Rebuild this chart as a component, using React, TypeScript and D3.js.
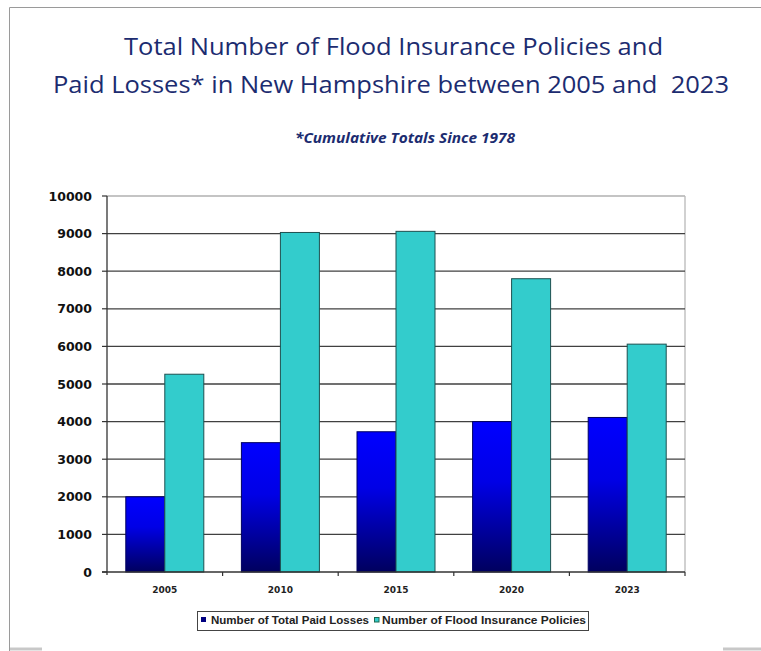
import React from "react";
import * as d3 from "d3";

const categories = ["2005", "2010", "2015", "2020", "2023"];
const seriesNames = ["Number of Total Paid Losses", "Number of Flood Insurance Policies"];
const paidLosses = [2000, 3440, 3730, 4000, 4110];
const policies = [5260, 9030, 9060, 7800, 6060];
const yTicks = [0, 1000, 2000, 3000, 4000, 5000, 6000, 7000, 8000, 9000, 10000];
const titleLines = [
  "Total Number of Flood Insurance Policies and",
  "Paid Losses* in New Hampshire between 2005 and  2023",
];
const subtitle = "*Cumulative Totals Since 1978";

export default function App() {
  const W = 761, H = 651;
  const left = 107, right = 685, top = 196, bottom = 572;
  const x = d3.scaleBand<string>().domain(categories).range([left, right]).padding(0);
  const xs = d3.scaleBand<string>().domain(seriesNames).range([0, x.bandwidth()]).paddingInner(0).paddingOuter(0.482);
  const y = d3.scaleLinear().domain([0, 10000]).range([bottom, top]);
  const navy = "#1c2c70";
  const series = [paidLosses, policies];

  return (
    <svg width={W} height={H} style={{ position: "absolute", left: 0, top: 0, background: "#fff" }}>
      <defs>
        <linearGradient id="blueGrad" x1="0" y1="0" x2="0" y2="1">
          <stop offset="0%" stopColor="#0000ff" />
          <stop offset="40%" stopColor="#0000e6" />
          <stop offset="100%" stopColor="#00005e" />
        </linearGradient>
      </defs>
      <rect x={0} y={0} width={W} height={H} fill="#fff" />
      {/* frame */}
      <line x1={9.5} x2={W} y1={7.5} y2={7.5} stroke="#9a9a9a" strokeWidth={1} />
      <line x1={9.5} x2={9.5} y1={7.5} y2={H} stroke="#9a9a9a" strokeWidth={1} />
      <line x1={10} x2={42} y1={649} y2={649} stroke="#c8c8c8" strokeWidth={3} />
      <line x1={723} x2={W} y1={649} y2={649} stroke="#c8c8c8" strokeWidth={3} />

      {/* titles */}
      <text x={393.5} y={55} textAnchor="middle" fill={navy} fontFamily="'Open Sans', Lato, sans-serif" fontSize={24}
        textLength={539} lengthAdjust="spacingAndGlyphs">{titleLines[0]}</text>
      <text x={391} y={93} textAnchor="middle" fill={navy} fontFamily="'Open Sans', Lato, sans-serif" fontSize={24}
        textLength={676} lengthAdjust="spacingAndGlyphs" style={{ whiteSpace: "pre" }}>{titleLines[1]}</text>
      <text x={405} y={143} textAnchor="middle" fill={navy} fontFamily="'Open Sans', Lato, sans-serif" fontSize={14}
        fontWeight="bold" fontStyle="italic" textLength={220} lengthAdjust="spacingAndGlyphs">{subtitle}</text>

      {/* plot frame top/right */}
      <line x1={left} x2={right} y1={y(10000)} y2={y(10000)} stroke="#b0b0b0" strokeWidth={1.3} />
      <line x1={right} x2={right} y1={top} y2={bottom} stroke="#b8b8b8" strokeWidth={1.3} />

      {/* gridlines */}
      {yTicks.filter(t => t > 0 && t < 10000).map(t => (
        <line key={t} x1={left} x2={right} y1={y(t)} y2={y(t)} stroke="#404040" strokeWidth={1.3} />
      ))}

      {/* bars */}
      {categories.map((c, i) => (
        <g key={c}>
          {seriesNames.map((s, j) => {
            const v = series[j][i];
            const bx = (x(c) as number) + (xs(s) as number);
            return (
              <rect key={s} x={bx} y={y(v)} width={xs.bandwidth()} height={y(0) - y(v)}
                fill={j === 0 ? "url(#blueGrad)" : "#33cccc"}
                stroke={j === 0 ? "#000060" : "#1d5050"} strokeWidth={1} />
            );
          })}
        </g>
      ))}

      {/* axes */}
      <line x1={left} x2={left} y1={top} y2={bottom + 3} stroke="#333" strokeWidth={1.3} />
      <line x1={left - 5} x2={right} y1={bottom} y2={bottom} stroke="#333" strokeWidth={1.3} />
      {yTicks.map(t => (
        <g key={t}>
          <line x1={left - 5} x2={left} y1={y(t)} y2={y(t)} stroke="#333" strokeWidth={1.2} />
          <text x={92} y={y(t)} dy="0.36em" textAnchor="end" fontFamily="'DejaVu Sans', Verdana, sans-serif"
            fontWeight="bold" fontSize={12.5} fill="#111">{t}</text>
        </g>
      ))}
      {categories.map((c, i) => (
        <g key={c}>
          <line x1={(x(c) as number) + x.bandwidth()} x2={(x(c) as number) + x.bandwidth()} y1={bottom} y2={bottom + 4}
            stroke="#333" strokeWidth={1.2} />
          <text x={(x(c) as number) + x.bandwidth() / 2} y={590} dy="0.36em" textAnchor="middle"
            fontFamily="'DejaVu Sans', Verdana, sans-serif" fontWeight="bold" fontSize={9} fill="#222">{c}</text>
        </g>
      ))}

      {/* legend */}
      <rect x={197.5} y={611.5} width={391} height={19} fill="#fff" stroke="#444" strokeWidth={1} />
      <rect x={201} y={617} width={5} height={5} fill="#000080" />
      <text x={211} y={619.5} dy="0.36em" fontFamily="'Liberation Sans', Arial, sans-serif" fontWeight="bold" fontSize={11.5}
        fill="#222" textLength={158} lengthAdjust="spacingAndGlyphs">{seriesNames[0]}</text>
      <rect x={374.5} y={617.5} width={4.5} height={4.5} fill="#33cccc" stroke="#1d6a50" strokeWidth={1} />
      <text x={382} y={619.5} dy="0.36em" fontFamily="'Liberation Sans', Arial, sans-serif" fontWeight="bold" fontSize={11.5}
        fill="#222" textLength={204} lengthAdjust="spacingAndGlyphs">{seriesNames[1]}</text>
    </svg>
  );
}
